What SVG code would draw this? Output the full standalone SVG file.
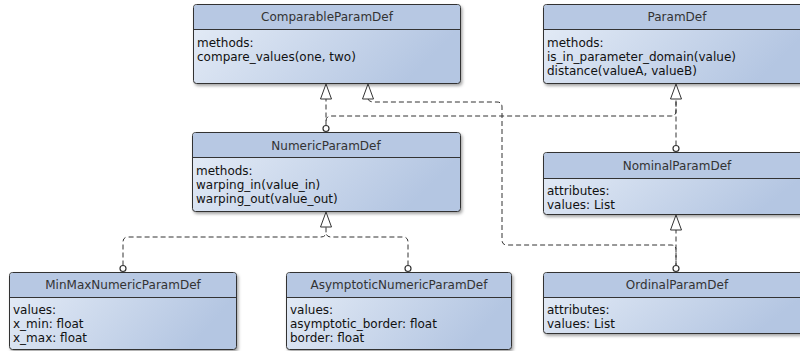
<svg xmlns="http://www.w3.org/2000/svg" width="800" height="351" viewBox="0 0 800 351">
<defs>
<linearGradient id="body" x1="0" y1="0" x2="1" y2="0.3">
<stop offset="0" stop-color="#e6edf7"/>
<stop offset="1" stop-color="#b4c6e2"/>
</linearGradient>
<filter id="sh" x="-10%" y="-10%" width="120%" height="130%">
<feDropShadow dx="1.5" dy="2" stdDeviation="1.5" flood-color="#000" flood-opacity="0.35"/>
</filter>
</defs>
<style>
.box{fill:url(#body);stroke:#333;stroke-width:1;filter:url(#sh)}
.hdr{fill:#b7c8e3}
.sep{stroke:#333;stroke-width:1}
.t{font-family:"DejaVu Sans",sans-serif;font-size:12px;fill:#111}
.h{font-family:"DejaVu Sans",sans-serif;font-size:12px;fill:#333;text-anchor:middle}
.c{fill:none;stroke:#333;stroke-width:1;stroke-dasharray:5,3}
.tri{fill:#fff;stroke:#333;stroke-width:1}
.dot{fill:#fff;stroke:#333;stroke-width:1.2}
</style>

<g id="ComparableParamDef">
<rect class="box" x="193.5" y="4.5" width="267" height="79" rx="3"/>
<path class="hdr" d="M196.5,5 H457.5 Q460,5 460,7.5 V29 H194 V7.5 Q194,5 196.5,5 Z"/>
<line class="sep" x1="193.5" y1="29.5" x2="460.5" y2="29.5"/>
<text class="h" x="327" y="21">ComparableParamDef</text>
<text class="t" x="197" y="47">methods:</text>
<text class="t" x="197" y="61">compare_values(one, two)</text>
</g>

<g id="ParamDef">
<rect class="box" x="543.5" y="4.5" width="268" height="79" rx="3"/>
<path class="hdr" d="M546.5,5 H811 V29 H544 V7.5 Q544,5 546.5,5 Z"/>
<line class="sep" x1="543.5" y1="29.5" x2="811" y2="29.5"/>
<text class="h" x="677" y="21">ParamDef</text>
<text class="t" x="547" y="47">methods:</text>
<text class="t" x="547" y="61">is_in_parameter_domain(value)</text>
<text class="t" x="547" y="75">distance(valueA, valueB)</text>
</g>

<g id="NumericParamDef">
<rect class="box" x="192.5" y="132.5" width="268" height="79" rx="3"/>
<path class="hdr" d="M195.5,133 H457.5 Q460,133 460,135.5 V157 H193 V135.5 Q193,133 195.5,133 Z"/>
<line class="sep" x1="192.5" y1="157.5" x2="460.5" y2="157.5"/>
<text class="h" x="326" y="150">NumericParamDef</text>
<text class="t" x="196" y="175">methods:</text>
<text class="t" x="196" y="189">warping_in(value_in)</text>
<text class="t" x="196" y="203">warping_out(value_out)</text>
</g>

<g id="NominalParamDef">
<rect class="box" x="543.5" y="152.5" width="268" height="62" rx="3"/>
<path class="hdr" d="M546.5,153 H811 V178 H544 V155.5 Q544,153 546.5,153 Z"/>
<line class="sep" x1="543.5" y1="178.5" x2="811" y2="178.5"/>
<text class="h" x="677" y="170">NominalParamDef</text>
<text class="t" x="547" y="195">attributes:</text>
<text class="t" x="547" y="209">values: List</text>
</g>

<g id="MinMaxNumericParamDef">
<rect class="box" x="9.5" y="272.5" width="227" height="77" rx="3"/>
<path class="hdr" d="M12.5,273 H233.5 Q236,273 236,275.5 V297 H10 V275.5 Q10,273 12.5,273 Z"/>
<line class="sep" x1="9.5" y1="297.5" x2="236.5" y2="297.5"/>
<text class="h" x="123" y="289">MinMaxNumericParamDef</text>
<text class="t" x="13" y="314">values:</text>
<text class="t" x="13" y="328">x_min: float</text>
<text class="t" x="13" y="342">x_max: float</text>
</g>

<g id="AsymptoticNumericParamDef">
<rect class="box" x="286.5" y="272.5" width="225" height="77" rx="3"/>
<path class="hdr" d="M289.5,273 H508.5 Q511,273 511,275.5 V297 H287 V275.5 Q287,273 289.5,273 Z"/>
<line class="sep" x1="286.5" y1="297.5" x2="511.5" y2="297.5"/>
<text class="h" x="399" y="289">AsymptoticNumericParamDef</text>
<text class="t" x="290" y="314">values:</text>
<text class="t" x="290" y="328">asymptotic_border: float</text>
<text class="t" x="290" y="342">border: float</text>
</g>

<g id="OrdinalParamDef">
<rect class="box" x="543.5" y="272.5" width="268" height="61" rx="3"/>
<path class="hdr" d="M546.5,273 H811 V297 H544 V275.5 Q544,273 546.5,273 Z"/>
<line class="sep" x1="543.5" y1="297.5" x2="811" y2="297.5"/>
<text class="h" x="677" y="289">OrdinalParamDef</text>
<text class="t" x="547" y="314">attributes:</text>
<text class="t" x="547" y="328">values: List</text>
</g>

<g id="connectors">
<path class="c" d="M326,125.5 V99"/>
<path class="c" d="M326,121 Q326,116 331,116 H671 Q676,116 676,111 V99"/>
<path class="c" d="M676,145.5 V99"/>
<path class="c" d="M368,99 Q369,102 374,102 H497 Q502,102 502,107 V240 Q502,245 507,245 H671 Q676,245 676,250 V265.5"/>
<path class="c" d="M676,265.5 V229"/>
<path class="c" d="M123,265.5 V242 Q123,237 128,237 H321 Q326,237 326,232 V226"/>
<path class="c" d="M408,265.5 V242 Q408,237 403,237 H331 Q326,237 326,232"/>
<polygon class="tri" points="326,84 320.5,99 331.5,99"/>
<polygon class="tri" points="368,84 362.5,99 373.5,99"/>
<polygon class="tri" points="676,84 670.5,99 681.5,99"/>
<polygon class="tri" points="676,215 670.5,230 681.5,230"/>
<polygon class="tri" points="326,212 320.5,227 331.5,227"/>
<circle class="dot" cx="326" cy="128.5" r="3"/>
<circle class="dot" cx="676" cy="148.5" r="3"/>
<circle class="dot" cx="123" cy="268.5" r="3"/>
<circle class="dot" cx="408" cy="268.5" r="3"/>
<circle class="dot" cx="676" cy="268.5" r="3"/>
</g>
</svg>
